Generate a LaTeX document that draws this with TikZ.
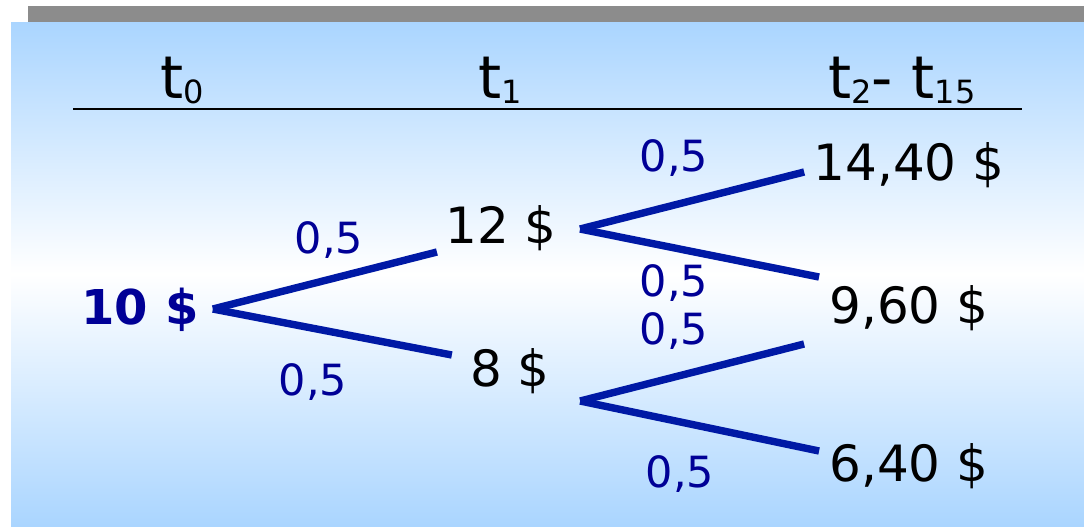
\documentclass[tikz,border=0pt]{standalone}
\usepackage{fontspec}
\setmainfont{DejaVu Sans}
\definecolor{navy}{RGB}{0,0,150}
\definecolor{branchblue}{RGB}{0,25,165}
\definecolor{skyblue}{RGB}{170,213,255}
\definecolor{bargrey}{RGB}{140,140,140}
\newcommand{\tsub}[1]{\raisebox{-2.5pt}{\fontsize{16}{16}\selectfont #1}}
\begin{document}
\begin{tikzpicture}[x=0.5pt,y=-0.5pt,every node/.style={inner sep=0pt,text depth=0pt},
  val/.style={font=\fontsize{25}{25}\selectfont,text height=18.25pt},
  prob/.style={font=\fontsize{21.5}{21.5}\selectfont,text=navy,text height=15.7pt},
  branch/.style={line width=3.7pt,branchblue},
  head/.style={font=\fontsize{29.5}{29.5}\selectfont,anchor=base}]
  \useasboundingbox (0,0) rectangle (1084,526);
  % background
  \fill[bargrey] (28,6) rectangle (1084,22);
  \shade[top color=skyblue,bottom color=skyblue,middle color=white] (11,22) rectangle (1084,526);
  % time axis
  \node[head] (h0) at (182,98) {t\tsub{0}};
  \node[head] (h1) at (500,98) {t\tsub{1}};
  \node[head] (h2) at (902,98) {t\tsub{2}- t\tsub{15}};
  \draw[line width=1.2pt] (73,109) -- (1022,109);
  % prices
  \node[font=\bfseries\fontsize{24}{24}\selectfont,text=navy,text height=17.5pt] (s0) at (140,307) {10 \$};
  \node[val] (u1) at (501,225) {12 \$};
  \node[val] (d1) at (510,368) {8 \$};
  \node[val] (uu) at (909,162) {14,40 \$};
  \node[val] (ud) at (909,305) {9,60 \$};
  \node[val] (dd) at (909,463) {6,40 \$};
  % branches
  \draw[branch] ([shift={(14,2)}]s0.east) -- ([shift={(-8,27)}]u1.west);
  \draw[branch] ([shift={(14,2)}]s0.east) -- ([shift={(-18,-13)}]d1.west);
  \draw[branch] ([shift={(23,4)}]u1.east) -- ([shift={(-9,10)}]uu.west);
  \draw[branch] ([shift={(23,4)}]u1.east) -- ([shift={(-10,-28)}]ud.west);
  \draw[branch] ([shift={(30,33)}]d1.east) -- ([shift={(-25,39)}]ud.west);
  \draw[branch] ([shift={(30,33)}]d1.east) -- ([shift={(-10,-12)}]dd.west);
  % probabilities
  \node[prob] (p1) at (329,238) {0,5};
  \node[prob] (p2) at (313,380) {0,5};
  \node[prob] (p3) at (674,156) {0,5};
  \node[prob] (p4) at (674,281) {0,5};
  \node[prob] (p5) at (674,329) {0,5};
  \node[prob] (p6) at (680,472) {0,5};
\end{tikzpicture}
\end{document}
